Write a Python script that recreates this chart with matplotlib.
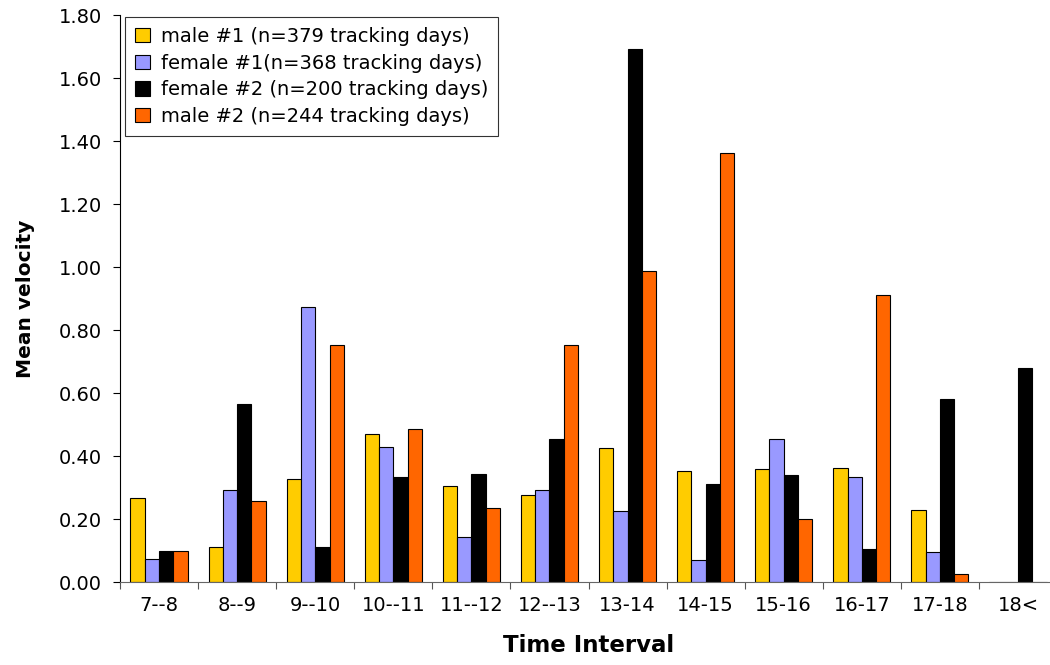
import numpy as np
import matplotlib.pyplot as plt

plt.rcParams['font.family'] = ['DejaVu Sans']

intervals = ['7--8', '8--9', '9--10', '10--11', '11--12', '12--13',
             '13-14', '14-15', '15-16', '16-17', '17-18', '18<']

male1 = [0.267, 0.111, 0.327, 0.470, 0.305, 0.276, 0.425, 0.352, 0.359, 0.362, 0.230, 0.0]
female1 = [0.073, 0.292, 0.873, 0.428, 0.143, 0.292, 0.225, 0.070, 0.454, 0.333, 0.094, 0.0]
female2 = [0.098, 0.565, 0.111, 0.333, 0.343, 0.454, 1.692, 0.311, 0.340, 0.105, 0.580, 0.680]
male2 = [0.098, 0.257, 0.752, 0.486, 0.235, 0.752, 0.986, 1.363, 0.200, 0.911, 0.025, 0.0]

series = [
    ('male #1 (n=379 tracking days)', male1, '#FFCC00'),
    ('female #1(n=368 tracking days)', female1, '#9999FF'),
    ('female #2 (n=200 tracking days)', female2, '#000000'),
    ('male #2 (n=244 tracking days)', male2, '#FF6600'),
]

fig = plt.figure(figsize=(10.5, 6.65), dpi=100)
# plot area runs slightly past the right edge of the figure
ax = fig.add_axes([0.1143, 0.1248, 0.8924, 0.8526])

x = np.arange(len(intervals))
width = 0.183
for i, (label, vals, color) in enumerate(series):
    ax.bar(x + (i - 1.5) * width, vals, width, color=color,
           edgecolor='black', linewidth=0.8, label=label)

ax.set_xlim(-0.5, len(intervals) - 0.5)
ax.set_ylim(0, 1.8)
yt = np.arange(0, 1.81, 0.2)
ax.set_yticks(yt)
ax.set_yticklabels([f'{v:.2f}' for v in yt], fontsize=14)

# tick marks between groups, labels at group centres
ax.set_xticks(np.arange(-0.5, len(intervals), 1.0))
ax.set_xticklabels([])
ax.set_xticks(x, minor=True)
ax.set_xticklabels(intervals, minor=True, fontsize=14)
ax.tick_params(axis='x', which='major', direction='out', length=5, color='#555555')
ax.tick_params(axis='x', which='minor', length=0, pad=10)
ax.tick_params(axis='y', direction='out', length=5, pad=8)

for side in ('top', 'right'):
    ax.spines[side].set_visible(False)
ax.spines['bottom'].set_color('#666666')
ax.spines['left'].set_color('black')

ax.set_xlabel('Time Interval', fontsize=16.5, fontweight='bold', labelpad=14)
ax.set_ylabel('Mean velocity', fontsize=14.5, fontweight='bold', labelpad=17)

leg = ax.legend(loc='upper left', bbox_to_anchor=(0.0053, 0.9965), borderaxespad=0,
                fontsize=14, frameon=True, fancybox=False, handlelength=0.78,
                handleheight=0.75, handletextpad=0.55, labelspacing=0.4,
                borderpad=0.5)
leg.get_frame().set_edgecolor('black')
leg.get_frame().set_linewidth(0.8)

fig.savefig('out.png', dpi=100)
